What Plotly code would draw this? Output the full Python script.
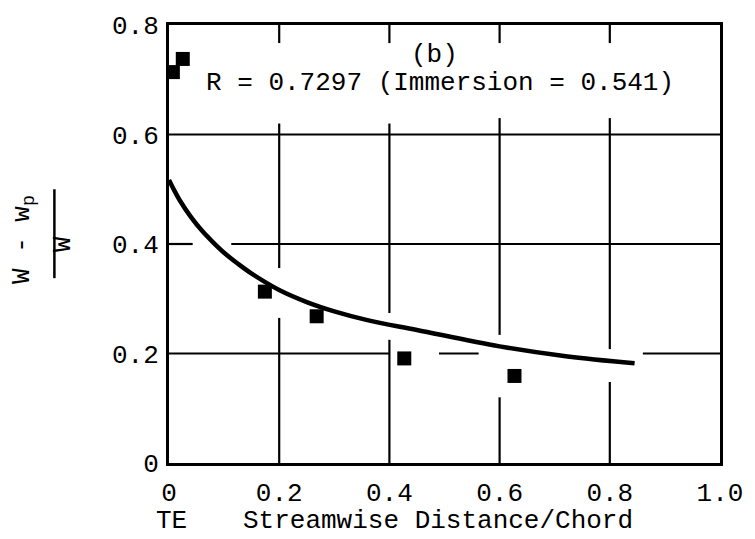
import plotly.graph_objects as go

# ---- data ----
point_x = [0.007, 0.025, 0.174, 0.268, 0.427, 0.627]
point_y = [0.714, 0.738, 0.313, 0.268, 0.191, 0.159]

curve_x = [0.0, 0.01, 0.02, 0.04, 0.06, 0.08, 0.10, 0.125, 0.15, 0.20,
           0.25, 0.30, 0.36, 0.45, 0.60, 0.72, 0.845]
curve_y = [0.517, 0.497, 0.479, 0.449, 0.424, 0.403, 0.384, 0.364, 0.346, 0.316,
           0.294, 0.277, 0.261, 0.243, 0.213, 0.195, 0.182]

x_ticks = [0, 0.2, 0.4, 0.6, 0.8, 1.0]
x_tick_labels = ["0", "0.2", "0.4", "0.6", "0.8", "1.0"]
y_ticks = [0, 0.2, 0.4, 0.6, 0.8]
y_tick_labels = ["0", "0.2", "0.4", "0.6", "0.8"]

# grid line pieces (drafted grid is interrupted where marks/text cross)
h_grid = {0.6: [(0, 1)],
          0.4: [(0, 0.043), (0.113, 1)],
          0.2: [(0, 0.40), (0.49, 0.562), (0.86, 1)]}
v_grid = {0.2: [(0.767, 0.8), (0.356, 0.62), (0, 0.265)],
          0.4: [(0.767, 0.8), (0.274, 0.62), (0, 0.225)],
          0.6: [(0.767, 0.8), (0.234, 0.63), (0, 0.12)],
          0.8: [(0.767, 0.8), (0.208, 0.63), (0, 0.148)]}

FONT = "Liberation Mono"
FS = 26

fig = go.Figure()
fig.add_trace(go.Scatter(x=curve_x, y=curve_y, mode="lines",
                         line=dict(color="black", width=4.5, shape="spline", smoothing=1.0),
                         hoverinfo="skip", showlegend=False))
fig.add_trace(go.Scatter(x=point_x, y=point_y, mode="markers",
                         marker=dict(symbol="square", size=14, color="black",
                                     line=dict(width=0)),
                         showlegend=False))

shapes = []
for yv, segs in h_grid.items():
    for a, b in segs:
        shapes.append(dict(type="line", xref="x", yref="y", x0=a, x1=b, y0=yv, y1=yv,
                           line=dict(color="black", width=2.2), layer="below"))
for xv, segs in v_grid.items():
    for a, b in segs:
        shapes.append(dict(type="line", xref="x", yref="y", x0=xv, x1=xv, y0=a, y1=b,
                           line=dict(color="black", width=2.2), layer="below"))
# fraction bar of the y-axis label
shapes.append(dict(type="line", xref="paper", yref="paper",
                   x0=-0.208, x1=-0.208, y0=0.422, y1=0.625,
                   line=dict(color="black", width=2.5)))

annotations = [
    dict(text="(b)", x=0.481, y=0.745, xref="x", yref="y", showarrow=False,
         font=dict(family=FONT, size=FS, color="black")),
    dict(text="R = 0.7297 (Immersion = 0.541)", x=0.492, y=0.694, xref="x", yref="y",
         showarrow=False, font=dict(family=FONT, size=FS, color="black")),
    dict(text="TE", x=0.005, y=-0.133, xref="x", yref="paper", showarrow=False,
         yanchor="middle", font=dict(family=FONT, size=FS, color="black")),
    dict(text="Streamwise Distance/Chord", x=0.488, y=-0.133, xref="x", yref="paper",
         showarrow=False, yanchor="middle", font=dict(family=FONT, size=FS, color="black")),
    dict(text="W - w<sub>p</sub>", x=-0.266, y=0.51, xref="paper", yref="paper",
         xanchor="center", yanchor="middle",
         showarrow=False, textangle=-90, font=dict(family=FONT, size=FS, color="black")),
    dict(text="W", x=-0.192, y=0.50, xref="paper", yref="paper",
         xanchor="center", yanchor="middle",
         showarrow=False, textangle=-90, font=dict(family=FONT, size=FS, color="black")),
]

fig.update_layout(
    width=755, height=539,
    margin=dict(l=169, r=29, t=25, b=76),
    paper_bgcolor="white", plot_bgcolor="white",
    shapes=shapes, annotations=annotations,
    xaxis=dict(range=[0, 1], tickvals=x_ticks, ticktext=x_tick_labels,
               showgrid=False, zeroline=False, showline=True, mirror=True,
               linecolor="black", linewidth=3, ticks="", ticklabelstandoff=4,
               tickfont=dict(family=FONT, size=FS, color="black")),
    yaxis=dict(range=[0, 0.8], tickvals=y_ticks, ticktext=y_tick_labels,
               showgrid=False, zeroline=False, showline=True, mirror=True,
               linecolor="black", linewidth=3, ticks="", ticklabelstandoff=2,
               tickfont=dict(family=FONT, size=FS, color="black")),
)

fig.write_html("out.html")
